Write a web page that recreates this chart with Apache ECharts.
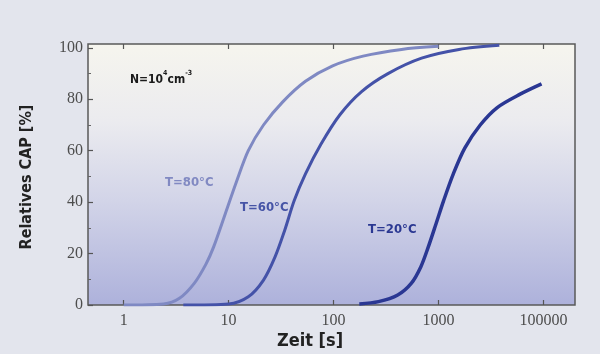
<!DOCTYPE html>
<html>
<head>
<meta charset="utf-8">
<script src="https://cdn.jsdelivr.net/npm/echarts@6/dist/echarts.min.js"></script>
<style>
html,body{margin:0;padding:0;background:#e3e5ed;}
#c{width:600px;height:354px;}
</style>
</head>
<body>
<div id="c"></div>
<script>
// X tick positions (log axis) and the labels printed under them
var tickValues = [1, 10, 100, 1000, 10000];
var tickLabels = ['1', '10', '100', '1000', '100000'];
var yTicks = [0, 20, 40, 60, 80, 100];

// T = 80 °C
var t80 = [1, 2.4, 3.4, 4.7, 6.1, 7.2, 9.3, 11.9, 15.4, 21.5, 32.8, 54, 98, 191, 445, 1000];
var v80 = [0, 0.4, 2.6, 8.4, 16, 22.6, 35.5, 48, 60, 70, 79, 87, 93, 96.8, 99.4, 100.6];
// T = 60 °C
var t60 = [3.7, 10, 15.4, 21.5, 27.7, 34.2, 42.2, 54, 76, 115, 185, 330, 690, 1570, 3800];
var v60 = [0, 0.4, 3.2, 9.7, 18.7, 29, 40.6, 51, 62.6, 74, 83, 90, 96, 99.4, 101];
// T = 20 °C
var t20 = [176, 268, 409, 550, 678, 800, 948, 1120, 1385, 1780, 2500, 3630, 6000, 9600];
var v20 = [0.4, 1.3, 3.9, 8.4, 14.8, 22.6, 31.6, 40.6, 51, 61, 70, 76.8, 82, 86];

function pairs(t, v) { return t.map(function (x, i) { return [x, v[i]]; }); }

var chart = echarts.init(document.getElementById('c'), null, {renderer: 'canvas'});
var serif = "'Liberation Serif','DejaVu Serif',serif";
var narrow = "'DejaVu Sans Condensed','Liberation Sans Narrow','Liberation Sans',Arial,sans-serif";

var xCommon = {
  type: 'log', logBase: 10, min: 0.457, max: 20000,
  splitLine: {show: false}, axisLine: {show: false}
};

chart.setOption({
  backgroundColor: '#e3e5ed',
  animation: false,
  grid: {
    left: 88, right: 25, top: 44, bottom: 49, show: true,
    borderColor: '#5a5a5a', borderWidth: 1.5,
    backgroundColor: {
      type: 'linear', x: 0, y: 0, x2: 0, y2: 1,
      colorStops: [
        {offset: 0, color: '#f6f5ee'},
        {offset: 0.3, color: '#ebebef'},
        {offset: 0.6, color: '#d2d4e8'},
        {offset: 1, color: '#adb1db'}
      ]
    }
  },
  xAxis: [
    Object.assign({}, xCommon, {
      position: 'bottom',
      axisTick: {inside: true, length: 5, lineStyle: {color: '#555', width: 1.2}, customValues: tickValues},
      minorTick: {show: false},
      axisLabel: {
        customValues: tickValues, margin: 8, color: '#4d4d4d',
        fontFamily: serif, fontSize: 16,
        formatter: function (v) { return tickLabels[Math.round(Math.log10(v))] || ''; }
      }
    }),
    Object.assign({}, xCommon, {
      position: 'top',
      axisTick: {inside: true, length: 5, lineStyle: {color: '#555', width: 1.2}, customValues: tickValues},
      axisLabel: {show: false}
    })
  ],
  yAxis: {
    type: 'value', min: 0, max: 101.5, interval: 20,
    splitLine: {show: false}, axisLine: {show: false},
    axisTick: {inside: true, length: 5, lineStyle: {color: '#555', width: 1.2}, customValues: yTicks},
    minorTick: {show: true, splitNumber: 2, length: 3, lineStyle: {color: '#666'}},
    axisLabel: {
      customValues: yTicks, margin: 5, color: '#4d4d4d',
      fontFamily: serif, fontSize: 16
    }
  },
  graphic: [
    {type: 'text', left: 130, top: 70, style: {
      rich: {
        b: {fontFamily: narrow, fontWeight: 'bold', fontSize: 12, fill: '#1a1a1a', lineHeight: 16, verticalAlign: 'bottom'},
        s: {fontFamily: narrow, fontWeight: 'bold', fontSize: 7, fill: '#1a1a1a', lineHeight: 16, verticalAlign: 'top'}
      },
      text: '{b|N=10}{s|4}{b|cm}{s|-3}'
    }},
    {type: 'text', left: 165, top: 176, style: {text: 'T=80°C', font: "bold 13px " + narrow, fill: '#8189c2'}},
    {type: 'text', left: 240, top: 201, style: {text: 'T=60°C', font: "bold 13px " + narrow, fill: '#4654a6'}},
    {type: 'text', left: 368, top: 223, style: {text: 'T=20°C', font: "bold 13px " + narrow, fill: '#2b3892'}},
    {type: 'text', x: 310, y: 341, style: {text: 'Zeit [s]', font: "bold 18px " + narrow, fill: '#222', align: 'center', verticalAlign: 'middle'}},
    {type: 'text', x: 27, y: 177, rotation: Math.PI / 2, style: {text: 'Relatives CAP [%]', font: "bold 16px " + narrow, fill: '#222', align: 'center', verticalAlign: 'middle'}}
  ],
  series: [
    {type: 'line', name: 'T=80°C', data: pairs(t80, v80), smooth: 0.3, symbol: 'none',
     lineStyle: {color: '#7f89c3', width: 3}},
    {type: 'line', name: 'T=60°C', data: pairs(t60, v60), smooth: 0.3, symbol: 'none',
     lineStyle: {color: '#4452a8', width: 3}},
    {type: 'line', name: 'T=20°C', data: pairs(t20, v20), smooth: 0.3, symbol: 'none',
     lineStyle: {color: '#2a3793', width: 3.5}}
  ]
});
</script>
</body>
</html>
